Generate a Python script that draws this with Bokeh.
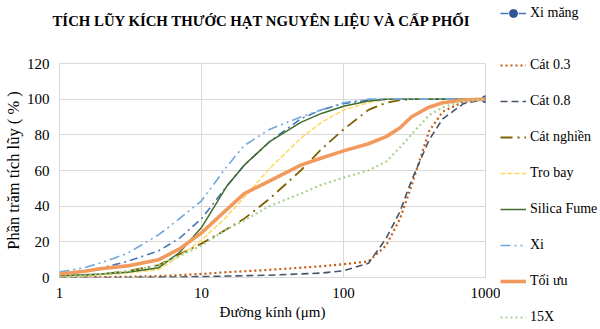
from bokeh.plotting import figure
from bokeh.models import Legend, LegendItem, FixedTicker, NumeralTickFormatter, Range1d
from bokeh.layouts import column, row
from bokeh.embed import file_html
from bokeh.resources import INLINE

# ---- data ----
diameter = [1, 1.5, 2, 3, 5, 7, 10, 15, 20, 30, 50, 70, 100, 150, 200, 250, 300, 400, 500, 700, 1000]

xi_mang     = [1.5, 3.5, 5.5, 9, 15, 22, 33, 51, 63, 76, 89, 94, 97.5, 99.5, 100, 100, 100, 100, 100, 100, 100]
cat_03      = [0, 0, 0.2, 0.4, 0.8, 1.3, 2, 3, 3.5, 4.3, 5.5, 6.3, 7.5, 9, 18, 33, 51, 82, 93, 98.5, 100]
cat_08      = [0, 0, 0, 0, 0.2, 0.3, 0.5, 0.8, 1, 1.3, 2, 2.5, 3.8, 8, 22, 37, 54, 77, 89, 97.5, 100]
cat_nghien  = [0.5, 1, 2, 3.5, 7, 13, 19, 27, 33, 44, 60, 72, 83, 94, 98, 99.5, 100, 100, 100, 100, 100]
tro_bay     = [0.5, 1, 1.5, 2.5, 4.5, 12, 21, 34, 45, 61, 78, 87, 94, 98, 100, 100, 100, 100, 100, 100, 100]
silica_fume = [1, 1.5, 2, 3, 5.5, 14, 28, 51, 63, 76, 87, 92, 96, 99, 100, 100, 100, 100, 100, 100, 100]
xi          = [3, 5.5, 8.5, 13.5, 24, 33, 43, 62, 74, 83, 90, 94, 98, 100, 100, 100, 100, 100, 100, 100, 100]
toi_uu      = [2, 3.5, 5, 6.5, 10, 16, 25, 38, 47, 54, 63, 67, 71, 75, 79, 84, 90, 95.5, 98, 99.5, 100]
x15         = [0.5, 1, 2, 3.5, 7, 12, 18, 27, 32, 40, 47, 52, 56, 60, 65, 73, 80, 91, 95.5, 99, 100]

x_ticks = [1, 10, 100, 1000]
y_ticks = [0, 20, 40, 60, 80, 100, 120]

title_text = "TÍCH LŨY KÍCH THƯỚC HẠT NGUYÊN LIỆU VÀ CẤP PHỐI"
x_label = "Đường kính (μm)"
y_label = "Phần trăm tích lũy ( % )"

FONT = "Liberation Serif"

series = [
    ("Xi măng", xi_mang, "#4A76B8", 1.6, "8 4 2 4"),
    ("Cát 0.3", cat_03, "#C55A11", 2.2, "2 3"),
    ("Cát 0.8", cat_08, "#44546A", 1.6, "7 4"),
    ("Cát nghiền", cat_nghien, "#7F6000", 1.8, "12 5 2 5"),
    ("Tro bay", tro_bay, "#FFD966", 1.6, "5 2"),
    ("Silica Fume", silica_fume, "#3F6B2C", 1.5, "solid"),
    ("Xi", xi, "#6FA8DC", 1.6, "10 4 2 4 2 4"),
    ("Tối ưu", toi_uu, "#F29A5E", 3.6, "solid"),
    ("15X", x15, "#A9D18E", 2.2, "2 3"),
]
MARKER_COLOR = "#2F5597"

HEAD_H = 45
TOTAL_H = 329
MAIN_W = 500
LEG_W = 100
BODY_H = TOTAL_H - HEAD_H


def blank_fig(w, h, **kw):
    f = figure(width=w, height=h, x_range=Range1d(0, w), y_range=Range1d(0, h),
               x_axis_location=None, y_axis_location=None, output_backend="svg",
               toolbar_location=None, **kw)
    f.extra_x_ranges = {"hidden": Range1d(-3000, -2000)}
    f.outline_line_color = None
    f.grid.visible = False
    f.background_fill_color = "white"
    f.border_fill_color = "white"
    return f


# ---- header: title (frame of this strip is aligned with the main frame) ----
head = blank_fig(MAIN_W, HEAD_H, min_border_left=0, min_border_right=0,
                 min_border_top=40, min_border_bottom=0)
head.title.text = title_text
head.title.text_font = FONT
head.title.text_font_size = "14.8px"
head.title.text_font_style = "bold"
head.title.text_color = "black"
head.title.align = "left"
head.title.offset = -7
head.title.standoff = 34

# ---- main plot ----
p = figure(width=MAIN_W, height=BODY_H, x_axis_type="log", x_range=(1, 1000), y_range=(0, 120),
           output_backend="svg", toolbar_location=None,
           min_border_left=59, min_border_right=15, min_border_top=18, min_border_bottom=52)
p.background_fill_color = "white"
p.border_fill_color = "white"
p.outline_line_color = "#d9d9d9"

p.xaxis.ticker = FixedTicker(ticks=x_ticks)
p.xaxis.formatter = NumeralTickFormatter(format="0")
p.yaxis.ticker = FixedTicker(ticks=y_ticks)
for ax in (p.xaxis, p.yaxis):
    ax.axis_line_color = None
    ax.major_tick_line_color = None
    ax.minor_tick_line_color = None
    ax.major_tick_out = 0
    ax.major_tick_in = 0
    ax.minor_tick_out = 0
    ax.minor_tick_in = 0
    ax.major_label_text_font = FONT
    ax.major_label_text_font_size = "15px"
    ax.major_label_text_color = "black"
    ax.axis_label_text_font = FONT
    ax.axis_label_text_font_style = "normal"
    ax.axis_label_text_color = "black"
p.xaxis.axis_label = x_label
p.yaxis.axis_label = y_label
p.xaxis.axis_label_text_font_size = "15px"
p.yaxis.axis_label_text_font_size = "16.5px"
p.xaxis.major_label_standoff = 10
p.yaxis.major_label_standoff = 10
p.xaxis.axis_label_standoff = 3
p.yaxis.axis_label_standoff = 1

p.xgrid.ticker = FixedTicker(ticks=x_ticks)
p.ygrid.ticker = FixedTicker(ticks=y_ticks)
p.grid.grid_line_color = "#d9d9d9"
p.grid.grid_line_width = 1
p.xgrid.minor_grid_line_color = None

for name, vals, color, w, dash in series:
    p.line(diameter, vals, line_color=color, line_width=w, line_dash=dash)
    if name == "Xi măng":
        p.scatter([diameter[-1]], [vals[-1]], marker="circle", size=7,
                  fill_color=MARKER_COLOR, line_color=MARKER_COLOR)

# ---- legend panel (full height, right side) ----
legf = blank_fig(LEG_W, TOTAL_H, min_border=0)

leg_style = dict(label_text_font=FONT, label_text_font_size="14px", label_text_color="black",
                 glyph_width=26, glyph_height=20, label_height=20, label_standoff=4,
                 padding=0, margin=0, border_line_color=None, background_fill_alpha=0)


def proxy(fig, name, vals, color, w, dash):
    # legend swatches: the series drawn on a hidden (off-screen) range
    rs = [fig.line(diameter, vals, line_color=color, line_width=w, line_dash=dash,
                   x_range_name="hidden")]
    if name == "Xi măng":
        rs.append(fig.scatter([diameter[-1]], [vals[-1]], marker="circle", size=7,
                              fill_color=MARKER_COLOR, line_color=MARKER_COLOR,
                              x_range_name="hidden"))
    return LegendItem(label=name, renderers=rs)


items = [proxy(legf, *s) for s in series]
legf.add_layout(Legend(items=items[:1], location=(0, TOTAL_H - 23), **leg_style), "center")
legf.add_layout(Legend(items=items[1:], location=(0, 2), spacing=16, **leg_style), "center")

layout = row(column(head, p, spacing=0), legf, spacing=0)

open("out.html", "w").write(file_html(layout, INLINE))
